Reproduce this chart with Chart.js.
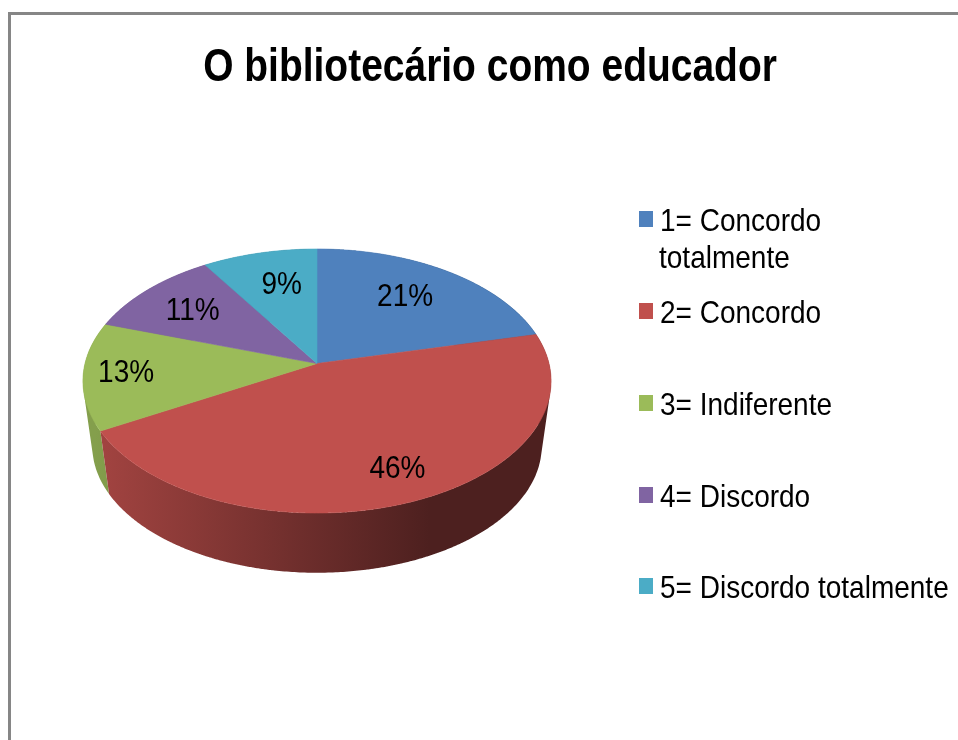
<!DOCTYPE html>
<html>
<head>
<meta charset="utf-8">
<title>O bibliotecário como educador</title>
<script src="https://cdn.jsdelivr.net/npm/chart.js@4"></script>
<style>
html, body { margin: 0; padding: 0; background: #fff; overflow: hidden; }
#wrap { position: absolute; left: 0; top: 0; width: 958px; height: 740px; }
</style>
</head>
<body>
<div id="wrap"><canvas id="grafico" width="958" height="740"></canvas></div>
<script>
// --- data ---
const TITLE = 'O bibliotecário como educador';
const CATEGORIES = ['1= Concordo totalmente', '2= Concordo', '3= Indiferente', '4= Discordo', '5= Discordo totalmente'];
const VALUES = [21.3, 45.6, 13.2, 10.9, 9];
const COLORS = ['#4F81BD', '#C0504D', '#9BBB59', '#8064A2', '#4BACC6'];

// --- pie geometry (perspective of the disc) ---
const CX = 317, CY = 363.5;
const PERSP = 0.1326, SCALE_X = 232, SCALE_Y = 129.7;
const FLOOR_SCALE = 0.96, FLOOR_DROP = 65.7;
const FONT = '"Liberation Sans", Arial, sans-serif';

// the original picture is squeezed sideways, text included
const TEXT_SQUEEZE = 0.875, TITLE_SQUEEZE = 0.847, TITLE_X = 490;

// small label corrections, in pixels
const LABEL_NUDGE = [[-12, 4], [11, 6], [-16, 0], [5, 4], [9, 7]];
const LEGEND_BASELINES = [231, 323, 415, 507, 598];

function project(angle, r, floor) {
    const u = r * Math.cos(angle), v = r * Math.sin(angle);
    const d = 1 - PERSP * v;
    const x = SCALE_X * u / d, y = SCALE_Y * v / d;
    if (floor) return [CX + x * FLOOR_SCALE, CY + y * FLOOR_SCALE + FLOOR_DROP];
    return [CX + x, CY + y];
}

function shade(hex, f) {
    const n = parseInt(hex.slice(1), 16);
    return `rgb(${Math.round((n >> 16) * f)},${Math.round(((n >> 8) & 255) * f)},${Math.round((n & 255) * f)})`;
}

function squeezedText(ctx, txt, x, y) {
    ctx.save();
    ctx.translate(x, y);
    ctx.scale(TEXT_SQUEEZE, 1);
    ctx.fillText(txt, 0, 0);
    ctx.restore();
}

const pie3d = {
    id: 'pie3d',
    afterLayout(chart) {
        // same squeeze for the library's title block
        const block = chart.titleBlock;
        if (block.squeezed) return;
        block.squeezed = true;
        const drawTitle = block.draw;
        block.draw = function () {
            const ctx = this.ctx;
            ctx.save();
            ctx.translate(TITLE_X, 0);
            ctx.scale(TITLE_SQUEEZE, 1);
            ctx.translate(-TITLE_X, 0);
            drawTitle.call(this);
            ctx.restore();
        };
    },
    beforeDraw(chart) {
        const ctx = chart.ctx;
        ctx.save();
        ctx.fillStyle = '#868686';
        ctx.fillRect(8, 12, 950, 3);
        ctx.fillRect(8, 12, 3, 728);
        ctx.restore();
    },
    beforeDatasetsDraw(chart) {
        const ctx = chart.ctx;
        const arcs = chart.getDatasetMeta(0).data;
        ctx.save();

        // side wall, back slices first: gradient goes darker to the right, then stays dark
        // every slice is one path of small quads, all wound the same way, so no seams
        const order = arcs.map((arc, i) => i).sort((p, q) =>
            Math.sin((arcs[p].startAngle + arcs[p].endAngle) / 2) - Math.sin((arcs[q].startAngle + arcs[q].endAngle) / 2));
        order.forEach(i => {
            const arc = arcs[i];
            const g = ctx.createLinearGradient(95, 0, 430, 0);
            g.addColorStop(0, shade(COLORS[i], 0.85));
            g.addColorStop(1, shade(COLORS[i], 0.4));
            ctx.fillStyle = g;
            ctx.beginPath();
            for (let a = arc.startAngle; a < arc.endAngle; a += 0.01) {
                const b = Math.min(a + 0.012, arc.endAngle);
                let q = [project(a, 1), project(b, 1), project(b, 1, true), project(a, 1, true)];
                let area = 0;
                q.forEach((p, k) => {
                    const n = q[(k + 1) % 4];
                    area += p[0] * n[1] - n[0] * p[1];
                });
                if (area < 0) q = q.reverse();
                ctx.moveTo(q[0][0], q[0][1]);
                for (let k = 1; k < 4; k++) ctx.lineTo(q[k][0], q[k][1]);
                ctx.closePath();
            }
            ctx.fill();
        });

        // top face
        arcs.forEach((arc, i) => {
            ctx.fillStyle = COLORS[i];
            ctx.strokeStyle = COLORS[i];
            ctx.lineWidth = 0.6;
            ctx.beginPath();
            ctx.moveTo(CX, CY);
            for (let a = arc.startAngle; a < arc.endAngle; a += 0.005) {
                const p = project(a, 1);
                ctx.lineTo(p[0], p[1]);
            }
            const last = project(arc.endAngle, 1);
            ctx.lineTo(last[0], last[1]);
            ctx.closePath();
            ctx.fill();
            ctx.stroke();
        });

        // percent labels
        const total = VALUES.reduce((s, v) => s + v, 0);
        ctx.fillStyle = '#000';
        ctx.font = '32px ' + FONT;
        ctx.textAlign = 'center';
        ctx.textBaseline = 'middle';
        arcs.forEach((arc, i) => {
            const p = project((arc.startAngle + arc.endAngle) / 2, 0.75);
            const txt = Math.round(VALUES[i] / total * 100) + '%';
            squeezedText(ctx, txt, p[0] + LABEL_NUDGE[i][0], p[1] + LABEL_NUDGE[i][1]);
        });

        // legend
        ctx.textAlign = 'left';
        ctx.textBaseline = 'alphabetic';
        CATEGORIES.forEach((cat, i) => {
            const y = LEGEND_BASELINES[i];
            ctx.fillStyle = COLORS[i];
            ctx.fillRect(639, y - 20, 14, 16);
            ctx.fillStyle = '#000';
            if (i === 0) {
                // this one wraps in the original
                const cut = cat.lastIndexOf(' ');
                squeezedText(ctx, cat.slice(0, cut), 660, y);
                squeezedText(ctx, cat.slice(cut + 1), 659, y + 37);
            } else {
                squeezedText(ctx, cat, 660, y);
            }
        });

        ctx.restore();
        return false; // default flat arcs are replaced by the above
    }
};

new Chart(document.getElementById('grafico'), {
    type: 'pie',
    data: {
        labels: CATEGORIES,
        datasets: [{ data: VALUES, backgroundColor: COLORS, borderWidth: 0 }]
    },
    options: {
        responsive: false,
        animation: false,
        layout: { padding: { left: 22 } },
        plugins: {
            legend: { display: false },
            tooltip: { enabled: false },
            title: {
                display: true,
                text: TITLE,
                color: '#000',
                font: { family: FONT, size: 46, weight: 'bold', lineHeight: 1.2 },
                padding: { top: 41, bottom: 0 }
            }
        }
    },
    plugins: [pie3d]
});
</script>
</body>
</html>
